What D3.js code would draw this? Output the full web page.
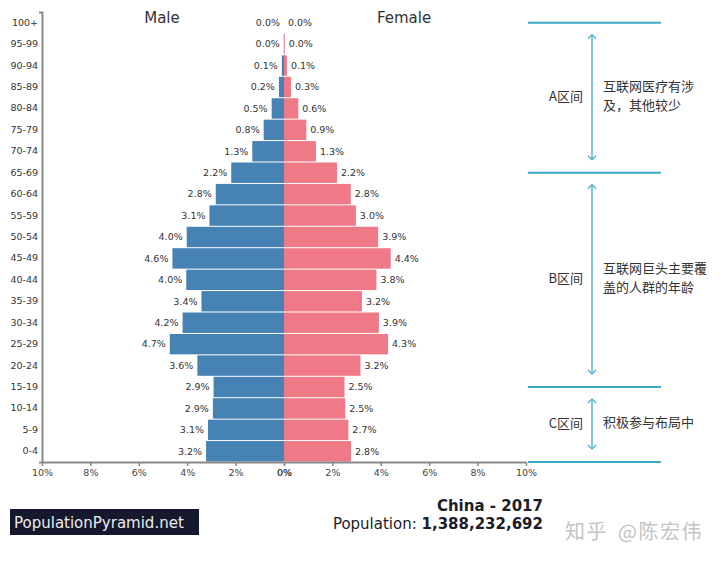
<!DOCTYPE html>
<html>
<head>
<meta charset="utf-8">
<script src="https://cdn.jsdelivr.net/npm/d3@7/dist/d3.min.js"></script>
<style>
  html, body { margin: 0; padding: 0; background: #fff; }
  svg { display: block; }
</style>
</head>
<body>
<svg id="chart" width="720" height="561"></svg>
<script>
// ---------------- data ----------------
const ageGroups = ["100+","95-99","90-94","85-89","80-84","75-79","70-74","65-69","60-64","55-59",
  "50-54","45-49","40-44","35-39","30-34","25-29","20-24","15-19","10-14","5-9","0-4"];
const maleValues   = [0.00,0.01,0.09,0.21,0.51,0.84,1.31,2.18,2.82,3.08,4.02,4.61,4.04,3.41,4.19,4.72,3.58,2.91,2.94,3.14,3.22];
const femaleValues = [0.00,0.03,0.12,0.29,0.59,0.92,1.32,2.19,2.76,2.97,3.89,4.41,3.82,3.22,3.92,4.30,3.16,2.50,2.53,2.66,2.77];
const tickValues = [0,2,4,6,8,10];
const titleMale = "Male", titleFemale = "Female";
const countryTitle = "China - 2017";
const populationLabel = "Population: ", populationValue = "1,388,232,692";
const siteName = "PopulationPyramid.net";
const watermark = "知乎 @陈宏伟";
// annotation zones: boundaries given by age groups (center of row), last = bottom of axis
const zoneNames = ["A区间","B区间","C区间"];
const zoneBounds = ["100+","65-69","15-19", null];
const zoneNotes = [["互联网医疗有涉","及，其他较少"],["互联网巨头主要覆","盖的人群的年龄"],["积极参与布局中"]];

// ---------------- layout ----------------
const svg = d3.select("#chart");
const plotLeft = 42, plotCenter = 284, plotRight = 526, plotTop = 12, plotBottom = 462;
const maleColor = "#4682b4", femaleColor = "#ef7987";
const latin = "'DejaVu Sans', sans-serif";
const cjk = "'Noto Sans CJK SC', sans-serif";

const y = d3.scaleBand().domain(ageGroups).range([plotTop, plotBottom]).padding(0);
const xM = d3.scaleLinear().domain([10, 0]).range([plotLeft, plotCenter]);
const xF = d3.scaleLinear().domain([0, 10]).range([plotCenter, plotRight]);
const fmt = v => v.toFixed(1) + "%";

// bars
const rows = ageGroups.map((a, i) => ({age: a, m: maleValues[i], f: femaleValues[i]}));
svg.append("g").selectAll("rect").data(rows).join("rect")
  .attr("x", d => xM(d.m)).attr("y", d => y(d.age) + 0.5)
  .attr("width", d => plotCenter - xM(d.m)).attr("height", y.bandwidth() - 1)
  .attr("fill", maleColor);
svg.append("g").selectAll("rect").data(rows).join("rect")
  .attr("x", plotCenter).attr("y", d => y(d.age) + 0.5)
  .attr("width", d => xF(d.f) - plotCenter).attr("height", y.bandwidth() - 1)
  .attr("fill", femaleColor);

// value labels
svg.append("g").selectAll("text").data(rows).join("text")
  .attr("x", d => xM(d.m) - 4).attr("y", d => y(d.age) + y.bandwidth() / 2)
  .attr("dy", "0.35em").attr("text-anchor", "end")
  .attr("font-family", latin).attr("font-size", "9.5px").attr("fill", "#333")
  .text(d => fmt(d.m));
svg.append("g").selectAll("text").data(rows).join("text")
  .attr("x", d => xF(d.f) + 4).attr("y", d => y(d.age) + y.bandwidth() / 2)
  .attr("dy", "0.35em").attr("text-anchor", "start")
  .attr("font-family", latin).attr("font-size", "9.5px").attr("fill", "#333")
  .text(d => fmt(d.f));

// left axis (age groups)
const gy = svg.append("g").attr("transform", `translate(${plotLeft},0)`)
  .call(d3.axisLeft(y).tickSize(0).tickSizeOuter(3).tickPadding(4));
gy.select(".domain").attr("stroke", "#888").attr("stroke-width", 2);
gy.selectAll("text").attr("font-family", latin).attr("font-size", "9.5px").attr("fill", "#333");

// bottom axes
function styleAxis(g) {
  g.select(".domain").attr("stroke", "#888").attr("stroke-width", 2);
  g.selectAll(".tick line").attr("stroke", "#888").attr("stroke-width", 1.5);
  g.selectAll("text").attr("font-family", latin).attr("font-size", "9.5px").attr("fill", "#444");
}
svg.append("g").attr("transform", `translate(0,${plotBottom})`)
  .call(d3.axisBottom(xM).tickValues(tickValues).tickFormat(d => d + "%").tickSize(4).tickSizeOuter(0).tickPadding(3))
  .call(styleAxis);
svg.append("g").attr("transform", `translate(0,${plotBottom})`)
  .call(d3.axisBottom(xF).tickValues(tickValues).tickFormat(d => d + "%").tickSize(4).tickSizeOuter(0).tickPadding(3))
  .call(styleAxis);

// titles
svg.append("text").attr("x", 162).attr("y", 23).attr("text-anchor", "middle")
  .attr("font-family", latin).attr("font-size", "15px").attr("fill", "#333").text(titleMale);
svg.append("text").attr("x", 404).attr("y", 23).attr("text-anchor", "middle")
  .attr("font-family", latin).attr("font-size", "15px").attr("fill", "#333").text(titleFemale);

// bottom info
svg.append("text").attr("x", 543).attr("y", 511).attr("text-anchor", "end")
  .attr("font-family", latin).attr("font-size", "15px").attr("font-weight", "bold").attr("fill", "#1c1c2a")
  .text(countryTitle);
const pop = svg.append("text").attr("x", 543).attr("y", 529).attr("text-anchor", "end")
  .attr("font-family", latin).attr("font-size", "15px").attr("fill", "#1c1c2a");
pop.append("tspan").text(populationLabel);
pop.append("tspan").attr("font-weight", "bold").text(populationValue);

svg.append("rect").attr("x", 10).attr("y", 509).attr("width", 189).attr("height", 26).attr("fill", "#16182e");
svg.append("text").attr("x", 14).attr("y", 528).attr("font-family", latin).attr("font-size", "15px")
  .attr("fill", "#ececec").text(siteName);

// watermark
svg.append("text").attr("x", 565).attr("y", 539).attr("font-family", cjk).attr("font-size", "20px")
  .attr("letter-spacing", "1.5px").attr("word-spacing", "4px")
  .attr("fill", "#c4c4c4").text(watermark);

// annotations
const lineColor = "#3fa7c8", arrowColor = "#5ab4d2";
const boundY = zoneBounds.map(b => b === null ? plotBottom : y(b) + y.bandwidth() / 2);
const ann = svg.append("g");
ann.selectAll("line.bound").data(boundY).join("line").attr("class", "bound")
  .attr("x1", 528).attr("x2", 661).attr("y1", d => d).attr("y2", d => d)
  .attr("stroke", lineColor).attr("stroke-width", 2);
const ax = 592;
zoneNames.forEach((name, i) => {
  const y0 = boundY[i] + 12, y1 = boundY[i + 1] - 13;
  const mid = (boundY[i] + boundY[i + 1]) / 2;
  ann.append("line").attr("x1", ax).attr("x2", ax).attr("y1", y0).attr("y2", y1)
    .attr("stroke", arrowColor).attr("stroke-width", 1.5);
  ann.append("path").attr("d", `M${ax - 4},${y0 + 4}L${ax},${y0}L${ax + 4},${y0 + 4}`)
    .attr("fill", "none").attr("stroke", arrowColor).attr("stroke-width", 1.5);
  ann.append("path").attr("d", `M${ax - 4},${y1 - 4}L${ax},${y1}L${ax + 4},${y1 - 4}`)
    .attr("fill", "none").attr("stroke", arrowColor).attr("stroke-width", 1.5);
  ann.append("text").attr("x", 583).attr("y", mid - 1).attr("dy", "0.35em").attr("text-anchor", "end")
    .attr("font-family", cjk).attr("font-size", "13px").attr("fill", "#333").text(name);
  const notes = zoneNotes[i];
  const lh = 19;
  notes.forEach((s, j) => {
    ann.append("text").attr("x", 603)
      .attr("y", mid - 2 + (j - (notes.length - 1) / 2) * lh)
      .attr("dy", "0.35em").attr("font-family", cjk).attr("font-size", "13px").attr("fill", "#333").text(s);
  });
});
</script>
</body>
</html>
